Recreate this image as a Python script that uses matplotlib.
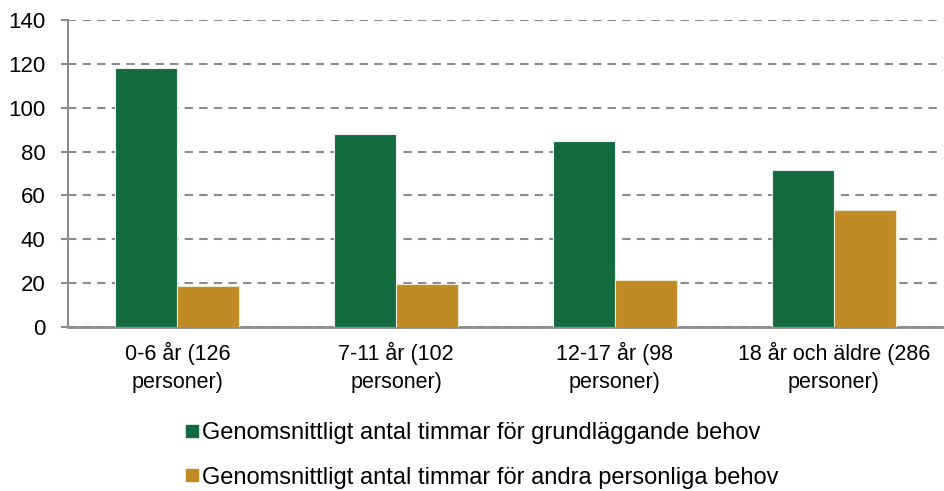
import matplotlib.pyplot as plt
import numpy as np
from matplotlib.lines import Line2D

categories = ["0-6 år (126\npersoner)", "7-11 år (102\npersoner)",
              "12-17 år (98\npersoner)", "18 år och äldre (286\npersoner)"]
grund = [118.2, 88.1, 84.8, 71.6]
andra = [18.7, 19.6, 21.4, 53.2]
series_names = ["Genomsnittligt antal timmar för grundläggande behov",
                "Genomsnittligt antal timmar för andra personliga behov"]
colors = ["#136A3F", "#C08A24"]
yticks = [0, 20, 40, 60, 80, 100, 120, 140]

plt.rcParams['font.family'] = ['Liberation Sans', 'DejaVu Sans']

fig = plt.figure(figsize=(9.44, 4.91), dpi=100)
ax = fig.add_axes([0.072, 0.334, 0.927, 0.625])

x = np.arange(len(categories))
w = 0.283
ax.bar(x - w / 2, grund, w, color=colors[0], edgecolor="#e8efe9", linewidth=0.8, zorder=3)
ax.bar(x + w / 2, andra, w, color=colors[1], edgecolor="#f1e6cf", linewidth=0.8, zorder=3)

ax.set_xlim(-0.5, len(categories) - 0.5)
ax.set_ylim(0, 140)
ax.set_yticks(yticks)
ax.set_xticks(x)
ax.set_xticklabels(categories, fontsize=15.5, linespacing=1.4)
ax.tick_params(axis='y', labelsize=16, length=5, width=1.5, color="#8c8c8c", pad=11)
ax.tick_params(axis='x', length=0, pad=11)
ax.yaxis.grid(True, linestyle=(0, (4, 3)), color="#8c8c8c", linewidth=1.5, zorder=0)

for side in ["top", "right"]:
    ax.spines[side].set_visible(False)
ax.spines["left"].set_color("#8c8c8c")
ax.spines["left"].set_linewidth(1.5)
ax.spines["bottom"].set_color("#8c8c8c")
ax.spines["bottom"].set_linewidth(2)

handles = [Line2D([], [], marker='s', linestyle='none', markersize=8.5, color=c) for c in colors]
fig.legend(handles, series_names, loc="upper left", bbox_to_anchor=(0.193, 0.14),
           frameon=False, fontsize=17, handletextpad=0.05, labelspacing=0.95,
           borderaxespad=0, handlelength=0.8, borderpad=0)

fig.savefig("out.png", dpi=100)
